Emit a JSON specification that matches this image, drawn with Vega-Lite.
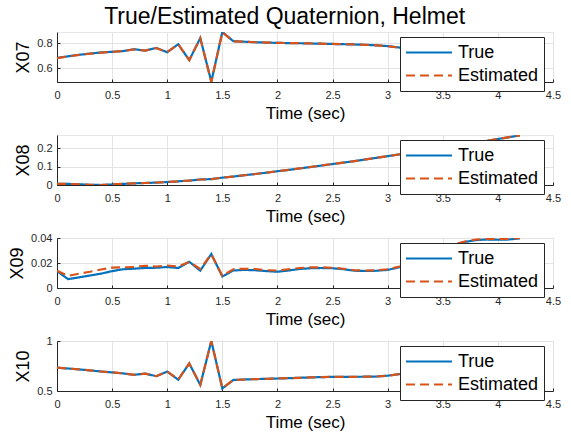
{
  "$schema": "https://vega.github.io/schema/vega-lite/v6.json",
  "background": "white",
  "padding": {"left": 8, "top": 5, "right": 5, "bottom": 5},
  "title": {"text": "True/Estimated Quaternion, Helmet", "fontSize": 23, "font": "Liberation Sans", "fontWeight": "normal", "color": "#000000", "offset": 3, "anchor": "middle"},
  "datasets": {
    "x07": [
      {"t":0,"True":0.682,"Estimated":0.681},{"t":0.1,"True":0.695,"Estimated":0.694},{"t":0.2,"True":0.707,"Estimated":0.707},{"t":0.3,"True":0.717,"Estimated":0.716},{"t":0.4,"True":0.726,"Estimated":0.725},{"t":0.5,"True":0.731,"Estimated":0.730},{"t":0.6,"True":0.737,"Estimated":0.737},{"t":0.7,"True":0.752,"Estimated":0.751},{"t":0.8,"True":0.741,"Estimated":0.741},{"t":0.9,"True":0.762,"Estimated":0.761},{"t":1.0,"True":0.728,"Estimated":0.729},{"t":1.1,"True":0.792,"Estimated":0.791},{"t":1.2,"True":0.664,"Estimated":0.665},{"t":1.3,"True":0.842,"Estimated":0.840},{"t":1.4,"True":0.492,"Estimated":0.489},{"t":1.5,"True":0.890,"Estimated":0.888},{"t":1.6,"True":0.816,"Estimated":0.815},{"t":1.7,"True":0.812,"Estimated":0.812},{"t":1.8,"True":0.808,"Estimated":0.808},{"t":1.9,"True":0.805,"Estimated":0.805},{"t":2.0,"True":0.803,"Estimated":0.803},{"t":2.1,"True":0.801,"Estimated":0.801},{"t":2.2,"True":0.800,"Estimated":0.800},{"t":2.3,"True":0.798,"Estimated":0.798},{"t":2.4,"True":0.796,"Estimated":0.796},{"t":2.5,"True":0.794,"Estimated":0.795},{"t":2.6,"True":0.792,"Estimated":0.792},{"t":2.7,"True":0.790,"Estimated":0.790},{"t":2.8,"True":0.787,"Estimated":0.787},{"t":2.9,"True":0.783,"Estimated":0.783},{"t":3.0,"True":0.777,"Estimated":0.776},{"t":3.1,"True":0.766,"Estimated":0.765},{"t":3.2,"True":0.752,"Estimated":0.752},{"t":3.3,"True":0.742,"Estimated":0.742},{"t":3.4,"True":0.735,"Estimated":0.735},{"t":3.5,"True":0.728,"Estimated":0.728},{"t":3.6,"True":0.722,"Estimated":0.722},{"t":3.7,"True":0.716,"Estimated":0.716},{"t":3.8,"True":0.711,"Estimated":0.711},{"t":3.9,"True":0.706,"Estimated":0.706},{"t":4.0,"True":0.702,"Estimated":0.702},{"t":4.1,"True":0.698,"Estimated":0.698},{"t":4.2,"True":0.695,"Estimated":0.695}
    ],
    "x08": [
      {"t":0,"True":0.006,"Estimated":0.006},{"t":0.1,"True":0.006,"Estimated":0.006},{"t":0.2,"True":0.004,"Estimated":0.004},{"t":0.3,"True":0.001,"Estimated":0.001},{"t":0.4,"True":0.0,"Estimated":0.0},{"t":0.5,"True":0.003,"Estimated":0.003},{"t":0.6,"True":0.006,"Estimated":0.006},{"t":0.7,"True":0.009,"Estimated":0.009},{"t":0.8,"True":0.011,"Estimated":0.011},{"t":0.9,"True":0.013,"Estimated":0.013},{"t":1.0,"True":0.016,"Estimated":0.016},{"t":1.1,"True":0.020,"Estimated":0.020},{"t":1.2,"True":0.024,"Estimated":0.024},{"t":1.3,"True":0.030,"Estimated":0.030},{"t":1.4,"True":0.032,"Estimated":0.032},{"t":1.5,"True":0.040,"Estimated":0.040},{"t":1.6,"True":0.046,"Estimated":0.046},{"t":1.7,"True":0.053,"Estimated":0.053},{"t":1.8,"True":0.060,"Estimated":0.060},{"t":1.9,"True":0.067,"Estimated":0.067},{"t":2.0,"True":0.075,"Estimated":0.075},{"t":2.1,"True":0.082,"Estimated":0.082},{"t":2.2,"True":0.090,"Estimated":0.090},{"t":2.3,"True":0.098,"Estimated":0.098},{"t":2.4,"True":0.106,"Estimated":0.106},{"t":2.5,"True":0.114,"Estimated":0.114},{"t":2.6,"True":0.122,"Estimated":0.122},{"t":2.7,"True":0.130,"Estimated":0.130},{"t":2.8,"True":0.139,"Estimated":0.139},{"t":2.9,"True":0.148,"Estimated":0.148},{"t":3.0,"True":0.157,"Estimated":0.157},{"t":3.1,"True":0.166,"Estimated":0.166},{"t":3.2,"True":0.175,"Estimated":0.175},{"t":3.3,"True":0.184,"Estimated":0.184},{"t":3.4,"True":0.193,"Estimated":0.193},{"t":3.5,"True":0.202,"Estimated":0.202},{"t":3.6,"True":0.211,"Estimated":0.211},{"t":3.7,"True":0.221,"Estimated":0.221},{"t":3.8,"True":0.230,"Estimated":0.230},{"t":3.9,"True":0.240,"Estimated":0.240},{"t":4.0,"True":0.250,"Estimated":0.250},{"t":4.1,"True":0.260,"Estimated":0.260},{"t":4.2,"True":0.270,"Estimated":0.270}
    ],
    "x09": [
      {"t":0,"True":0.0136,"Estimated":0.0138},{"t":0.1,"True":0.0071,"Estimated":0.0097},{"t":0.2,"True":0.0085,"Estimated":0.0115},{"t":0.3,"True":0.0100,"Estimated":0.0130},{"t":0.4,"True":0.0115,"Estimated":0.0148},{"t":0.5,"True":0.0135,"Estimated":0.0163},{"t":0.6,"True":0.0150,"Estimated":0.0165},{"t":0.7,"True":0.0155,"Estimated":0.0168},{"t":0.8,"True":0.0160,"Estimated":0.0178},{"t":0.9,"True":0.0162,"Estimated":0.0172},{"t":1.0,"True":0.0168,"Estimated":0.0180},{"t":1.1,"True":0.0160,"Estimated":0.0172},{"t":1.2,"True":0.0210,"Estimated":0.0208},{"t":1.3,"True":0.0139,"Estimated":0.0152},{"t":1.4,"True":0.0272,"Estimated":0.0270},{"t":1.5,"True":0.0092,"Estimated":0.0097},{"t":1.6,"True":0.0140,"Estimated":0.0150},{"t":1.7,"True":0.0145,"Estimated":0.0154},{"t":1.8,"True":0.0142,"Estimated":0.0152},{"t":1.9,"True":0.0135,"Estimated":0.0142},{"t":2.0,"True":0.0130,"Estimated":0.0140},{"t":2.1,"True":0.0140,"Estimated":0.0150},{"t":2.2,"True":0.0152,"Estimated":0.0160},{"t":2.3,"True":0.0158,"Estimated":0.0165},{"t":2.4,"True":0.0160,"Estimated":0.0165},{"t":2.5,"True":0.0158,"Estimated":0.0162},{"t":2.6,"True":0.0150,"Estimated":0.0154},{"t":2.7,"True":0.0138,"Estimated":0.0142},{"t":2.8,"True":0.0136,"Estimated":0.0140},{"t":2.9,"True":0.0138,"Estimated":0.0142},{"t":3.0,"True":0.0145,"Estimated":0.0150},{"t":3.1,"True":0.0165,"Estimated":0.0170},{"t":3.2,"True":0.0185,"Estimated":0.0190},{"t":3.3,"True":0.0220,"Estimated":0.0225},{"t":3.4,"True":0.0265,"Estimated":0.0270},{"t":3.5,"True":0.0310,"Estimated":0.0315},{"t":3.6,"True":0.0345,"Estimated":0.0350},{"t":3.7,"True":0.0368,"Estimated":0.0372},{"t":3.8,"True":0.0383,"Estimated":0.0388},{"t":3.9,"True":0.0388,"Estimated":0.0392},{"t":4.0,"True":0.0386,"Estimated":0.0392},{"t":4.1,"True":0.0388,"Estimated":0.0393},{"t":4.2,"True":0.0397,"Estimated":0.0400}
    ],
    "x10": [
      {"t":0,"True":0.733,"Estimated":0.733},{"t":0.1,"True":0.725,"Estimated":0.725},{"t":0.2,"True":0.716,"Estimated":0.716},{"t":0.3,"True":0.706,"Estimated":0.706},{"t":0.4,"True":0.695,"Estimated":0.695},{"t":0.5,"True":0.686,"Estimated":0.686},{"t":0.6,"True":0.676,"Estimated":0.676},{"t":0.7,"True":0.662,"Estimated":0.662},{"t":0.8,"True":0.674,"Estimated":0.674},{"t":0.9,"True":0.648,"Estimated":0.648},{"t":1.0,"True":0.694,"Estimated":0.694},{"t":1.1,"True":0.613,"Estimated":0.614},{"t":1.2,"True":0.776,"Estimated":0.776},{"t":1.3,"True":0.560,"Estimated":0.561},{"t":1.4,"True":1.0,"Estimated":0.999},{"t":1.5,"True":0.526,"Estimated":0.527},{"t":1.6,"True":0.610,"Estimated":0.610},{"t":1.7,"True":0.615,"Estimated":0.615},{"t":1.8,"True":0.619,"Estimated":0.619},{"t":1.9,"True":0.622,"Estimated":0.622},{"t":2.0,"True":0.625,"Estimated":0.625},{"t":2.1,"True":0.628,"Estimated":0.628},{"t":2.2,"True":0.632,"Estimated":0.632},{"t":2.3,"True":0.636,"Estimated":0.636},{"t":2.4,"True":0.639,"Estimated":0.639},{"t":2.5,"True":0.641,"Estimated":0.641},{"t":2.6,"True":0.642,"Estimated":0.642},{"t":2.7,"True":0.642,"Estimated":0.642},{"t":2.8,"True":0.643,"Estimated":0.643},{"t":2.9,"True":0.645,"Estimated":0.645},{"t":3.0,"True":0.653,"Estimated":0.653},{"t":3.1,"True":0.668,"Estimated":0.668},{"t":3.2,"True":0.684,"Estimated":0.684},{"t":3.3,"True":0.697,"Estimated":0.697},{"t":3.4,"True":0.707,"Estimated":0.707},{"t":3.5,"True":0.716,"Estimated":0.716},{"t":3.6,"True":0.723,"Estimated":0.723},{"t":3.7,"True":0.729,"Estimated":0.729},{"t":3.8,"True":0.734,"Estimated":0.734},{"t":3.9,"True":0.738,"Estimated":0.738},{"t":4.0,"True":0.742,"Estimated":0.742},{"t":4.1,"True":0.745,"Estimated":0.745},{"t":4.2,"True":0.748,"Estimated":0.748}
    ]
  },
  "spacing": 53,
  "bounds": "flush",
  "resolve": {"scale": {"y": "independent", "color": "independent", "strokeDash": "independent"}, "legend": {"color": "independent", "strokeDash": "independent"}},
  "vconcat": [
    {
      "width": 496, "height": 50,
      "data": {"name": "x07"},
      "transform": [{"fold": ["True", "Estimated"], "as": ["series", "value"]}],
      "mark": {"type": "line", "strokeWidth": 2.2, "clip": true},
      "encoding": {
        "x": {"field": "t", "type": "quantitative", "scale": {"domain": [0, 4.5], "nice": false}, "axis": {"values": [0, 0.5, 1, 1.5, 2, 2.5, 3, 3.5, 4, 4.5], "title": "Time (sec)"}},
        "y": {"field": "value", "type": "quantitative", "scale": {"zero": false, "nice": false}, "axis": {"values": [0.6, 0.8], "title": "X07"}},
        "color": {"field": "series", "type": "nominal", "scale": {"domain": ["True", "Estimated"], "range": ["#0072BD", "#D95319"]}},
        "strokeDash": {"field": "series", "type": "nominal", "scale": {"domain": ["True", "Estimated"], "range": [[1, 0], [9, 5]]}}
      }
    },
    {
      "width": 496, "height": 50,
      "data": {"name": "x08"},
      "transform": [{"fold": ["True", "Estimated"], "as": ["series", "value"]}],
      "mark": {"type": "line", "strokeWidth": 2.2, "clip": true},
      "encoding": {
        "x": {"field": "t", "type": "quantitative", "scale": {"domain": [0, 4.5], "nice": false}, "axis": {"values": [0, 0.5, 1, 1.5, 2, 2.5, 3, 3.5, 4, 4.5], "title": "Time (sec)"}},
        "y": {"field": "value", "type": "quantitative", "scale": {"domain": [0, 0.272], "nice": false}, "axis": {"values": [0, 0.1, 0.2], "title": "X08"}},
        "color": {"field": "series", "type": "nominal", "scale": {"domain": ["True", "Estimated"], "range": ["#0072BD", "#D95319"]}},
        "strokeDash": {"field": "series", "type": "nominal", "scale": {"domain": ["True", "Estimated"], "range": [[1, 0], [9, 5]]}}
      }
    },
    {
      "width": 496, "height": 50,
      "data": {"name": "x09"},
      "transform": [{"fold": ["True", "Estimated"], "as": ["series", "value"]}],
      "mark": {"type": "line", "strokeWidth": 2.2, "clip": true},
      "encoding": {
        "x": {"field": "t", "type": "quantitative", "scale": {"domain": [0, 4.5], "nice": false}, "axis": {"values": [0, 0.5, 1, 1.5, 2, 2.5, 3, 3.5, 4, 4.5], "title": "Time (sec)"}},
        "y": {"field": "value", "type": "quantitative", "scale": {"domain": [0, 0.04], "nice": false}, "axis": {"values": [0, 0.02, 0.04], "title": "X09"}},
        "color": {"field": "series", "type": "nominal", "scale": {"domain": ["True", "Estimated"], "range": ["#0072BD", "#D95319"]}},
        "strokeDash": {"field": "series", "type": "nominal", "scale": {"domain": ["True", "Estimated"], "range": [[1, 0], [9, 5]]}}
      }
    },
    {
      "width": 496, "height": 50,
      "data": {"name": "x10"},
      "transform": [{"fold": ["True", "Estimated"], "as": ["series", "value"]}],
      "mark": {"type": "line", "strokeWidth": 2.2, "clip": true},
      "encoding": {
        "x": {"field": "t", "type": "quantitative", "scale": {"domain": [0, 4.5], "nice": false}, "axis": {"values": [0, 0.5, 1, 1.5, 2, 2.5, 3, 3.5, 4, 4.5], "title": "Time (sec)"}},
        "y": {"field": "value", "type": "quantitative", "scale": {"domain": [0.5, 1], "nice": false}, "axis": {"values": [0.5, 1], "title": "X10"}},
        "color": {"field": "series", "type": "nominal", "scale": {"domain": ["True", "Estimated"], "range": ["#0072BD", "#D95319"]}},
        "strokeDash": {"field": "series", "type": "nominal", "scale": {"domain": ["True", "Estimated"], "range": [[1, 0], [9, 5]]}}
      }
    }
  ],
  "config": {
    "font": "Liberation Sans",
    "view": {"stroke": "#e6e6e6"},
    "axis": {
      "format": "~g",
      "labelFontSize": 11,
      "labelColor": "#262626",
      "labelFont": "Liberation Sans",
      "titleFont": "Liberation Sans",
      "titleFontWeight": "normal",
      "titleColor": "#000000",
      "domainColor": "#262626",
      "tickColor": "#262626",
      "tickSize": -3,
      "gridColor": "#e3e3e3",
      "grid": true
    },
    "axisX": {"labelPadding": 10, "titleFontSize": 17, "titlePadding": 5, "labelFlush": false},
    "axisY": {"labelPadding": 8, "titleFontSize": 18, "titlePadding": 4, "labelFlush": false},
    "legend": {
      "orient": "none",
      "legendX": 343,
      "legendY": 5,
      "title": null,
      "fillColor": "white",
      "strokeColor": "#262626",
      "padding": 5,
      "labelFontSize": 18,
      "labelColor": "#000000",
      "labelFont": "Liberation Sans",
      "symbolType": "stroke",
      "symbolSize": 2116,
      "symbolStrokeWidth": 2,
      "clipHeight": 21,
      "rowPadding": 2,
      "labelOffset": 5
    }
  }
}
